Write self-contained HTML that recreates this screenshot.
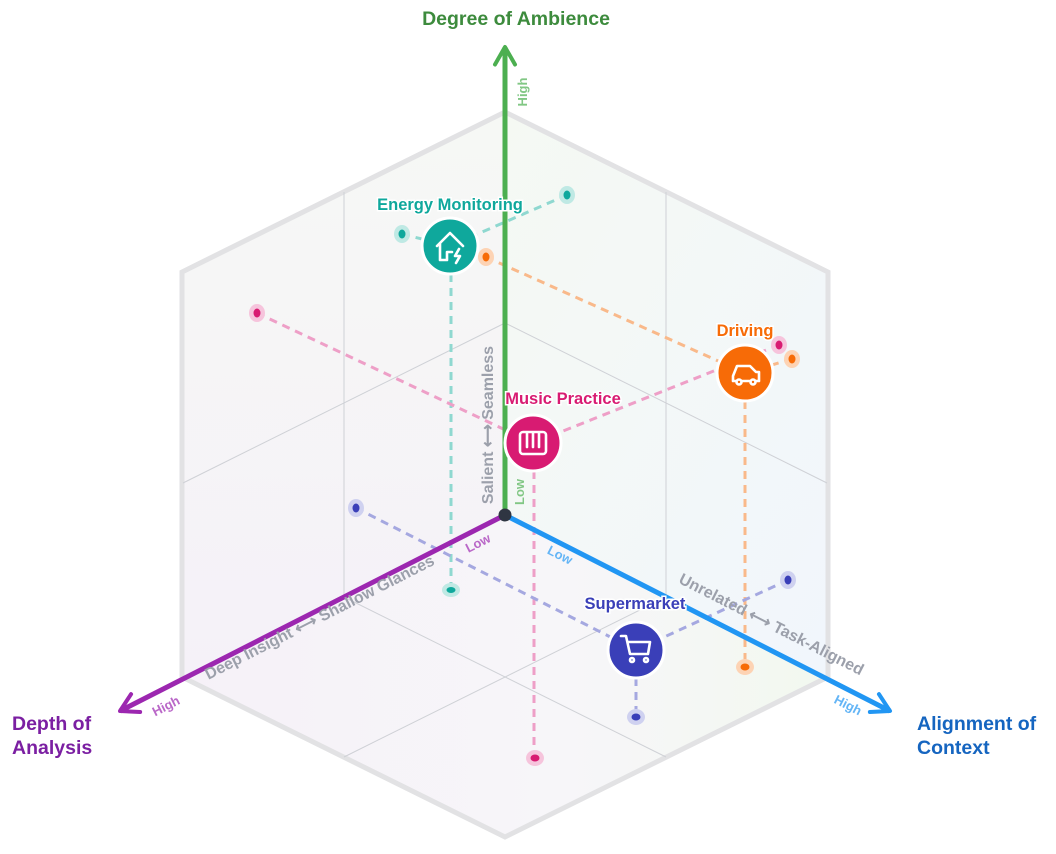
<!DOCTYPE html>
<html><head><meta charset="utf-8"><style>
html,body{margin:0;padding:0;background:#fff;}
svg{display:block;font-family:"Liberation Sans",sans-serif;}
</style></head><body>
<svg width="1056" height="854" viewBox="0 0 1056 854" xmlns="http://www.w3.org/2000/svg">
<defs>
<linearGradient id="gl" x1="0" y1="0" x2="0" y2="1"><stop offset="0" stop-color="#f6f8f5"/><stop offset="1" stop-color="#f5f1f8"/></linearGradient>
<linearGradient id="gr" x1="0" y1="0" x2="1" y2="1"><stop offset="0" stop-color="#f5f9f3"/><stop offset="1" stop-color="#f1f6fc"/></linearGradient>
<linearGradient id="gf" x1="0" y1="0" x2="1" y2="0"><stop offset="0" stop-color="#f6f1f8"/><stop offset="0.6" stop-color="#f7f6f9"/><stop offset="1" stop-color="#f2f8ef"/></linearGradient>
<marker id="ag" viewBox="0 0 10 10" refX="8" refY="5" markerWidth="5" markerHeight="5" orient="auto"><path d="M1,1 L8,5 L1,9" fill="none" stroke="#4caf50" stroke-width="1.6" stroke-linecap="round" stroke-linejoin="round"/></marker>
<marker id="ap" viewBox="0 0 10 10" refX="8" refY="5" markerWidth="5" markerHeight="5" orient="auto"><path d="M1,1 L8,5 L1,9" fill="none" stroke="#9c27b0" stroke-width="1.6" stroke-linecap="round" stroke-linejoin="round"/></marker>
<marker id="ab" viewBox="0 0 10 10" refX="8" refY="5" markerWidth="5" markerHeight="5" orient="auto"><path d="M1,1 L8,5 L1,9" fill="none" stroke="#2196f3" stroke-width="1.6" stroke-linecap="round" stroke-linejoin="round"/></marker>
</defs>
<polygon points="505,515 505,112 182,272 182,677" fill="url(#gl)"/>
<polygon points="505,515 505,112 828,272 828,677" fill="url(#gr)"/>
<polygon points="505,515 182,677 505,837 828,677" fill="url(#gf)"/>
<polygon points="505,112 828,272 828,677 505,837 182,677 182,272" fill="none" stroke="#e2e2e4" stroke-width="5" stroke-linejoin="miter"/>
<g stroke="#cfd1d6" stroke-width="1" fill="none">
<line x1="344" y1="192" x2="344" y2="597"/>
<line x1="666" y1="192" x2="666" y2="597"/>
<line x1="505" y1="323" x2="183" y2="483"/>
<line x1="505" y1="323" x2="827" y2="483"/>
<line x1="344" y1="597" x2="666" y2="757"/>
<line x1="666" y1="597" x2="344" y2="757"/>
</g>
<g fill="none" stroke-width="3" stroke-dasharray="8,6">
<g stroke="#8fd8d0"><line x1="402" y1="234" x2="450" y2="246"/><line x1="567" y1="195" x2="450" y2="246"/><line x1="451" y1="246" x2="451" y2="590"/></g>
<g stroke="#f9b98a"><line x1="486" y1="257" x2="745" y2="373"/><line x1="792" y1="359" x2="745" y2="373"/><line x1="745" y1="373" x2="745" y2="667"/></g>
<g stroke="#ee9fc7"><line x1="257" y1="313" x2="533" y2="443"/><line x1="779" y1="345" x2="533" y2="443"/><line x1="534" y1="443" x2="534" y2="758"/></g>
<g stroke="#a5a8e0"><line x1="356" y1="508" x2="636" y2="650"/><line x1="788" y1="580" x2="636" y2="650"/><line x1="636" y1="650" x2="636" y2="717"/></g>
</g>
<g>
<ellipse cx="402" cy="234" rx="8" ry="9" fill="#bfe9e4"/><ellipse cx="402" cy="234" rx="3.5" ry="4.5" fill="#0fa89c"/>
<ellipse cx="567" cy="195" rx="8" ry="9" fill="#bfe9e4"/><ellipse cx="567" cy="195" rx="3.5" ry="4.5" fill="#0fa89c"/>
<ellipse cx="451" cy="590" rx="9" ry="7" fill="#bfe9e4"/><ellipse cx="451" cy="590" rx="4.5" ry="3" fill="#0fa89c"/>
<ellipse cx="486" cy="257" rx="8" ry="9" fill="#fdd3b4"/><ellipse cx="486" cy="257" rx="3.5" ry="4.5" fill="#f76b07"/>
<ellipse cx="792" cy="359" rx="8" ry="9" fill="#fdd3b4"/><ellipse cx="792" cy="359" rx="3.5" ry="4.5" fill="#f76b07"/>
<ellipse cx="745" cy="667" rx="9" ry="8" fill="#fdd3b4"/><ellipse cx="745" cy="667" rx="4.5" ry="3.5" fill="#f76b07"/>
<ellipse cx="257" cy="313" rx="8" ry="9" fill="#f6c4dc"/><ellipse cx="257" cy="313" rx="3.5" ry="4.5" fill="#d81b72"/>
<ellipse cx="779" cy="345" rx="8" ry="9" fill="#f6c4dc"/><ellipse cx="779" cy="345" rx="3.5" ry="4.5" fill="#d81b72"/>
<ellipse cx="535" cy="758" rx="9" ry="8" fill="#f6c4dc"/><ellipse cx="535" cy="758" rx="4.5" ry="3.5" fill="#d81b72"/>
<ellipse cx="356" cy="508" rx="8" ry="9" fill="#cfd1f0"/><ellipse cx="356" cy="508" rx="3.5" ry="4.5" fill="#3a3fb8"/>
<ellipse cx="788" cy="580" rx="8" ry="9" fill="#cfd1f0"/><ellipse cx="788" cy="580" rx="3.5" ry="4.5" fill="#3a3fb8"/>
<ellipse cx="636" cy="717" rx="9" ry="8" fill="#cfd1f0"/><ellipse cx="636" cy="717" rx="4.5" ry="3.5" fill="#3a3fb8"/>
</g>
<line x1="505" y1="515" x2="505" y2="47" stroke="#4caf50" stroke-width="5" marker-end="url(#ag)"/>
<line x1="505" y1="515" x2="120" y2="711" stroke="#9c27b0" stroke-width="5" marker-end="url(#ap)"/>
<line x1="505" y1="515" x2="890" y2="711" stroke="#2196f3" stroke-width="5" marker-end="url(#ab)"/>
<circle cx="505" cy="515" r="6.5" fill="#2f3542"/>
<text x="516" y="25" text-anchor="middle" font-size="19.5" font-weight="bold" fill="#3d8b3d">Degree of Ambience</text>
<text x="12" y="730" font-size="19.5" font-weight="bold" fill="#7b1fa2">Depth of</text>
<text x="12" y="754" font-size="19.5" font-weight="bold" fill="#7b1fa2">Analysis</text>
<text x="917" y="730" font-size="19.5" font-weight="bold" fill="#1565c0">Alignment of</text>
<text x="917" y="754" font-size="19.5" font-weight="bold" fill="#1565c0">Context</text>
<text transform="translate(527,92) rotate(-90)" text-anchor="middle" font-size="13" font-weight="bold" fill="#81c784">High</text>
<text transform="translate(524,492) rotate(-90)" text-anchor="middle" font-size="13" font-weight="bold" fill="#81c784">Low</text>
<text transform="translate(493,425) rotate(-90)" text-anchor="middle" font-size="16" font-weight="bold" fill="#9ca0ab">Salient ⟷ Seamless</text>
<text transform="translate(480,547) rotate(-27)" text-anchor="middle" font-size="13" font-weight="bold" fill="#ba68c8">Low</text>
<text transform="translate(168,710) rotate(-27)" text-anchor="middle" font-size="13" font-weight="bold" fill="#ba68c8">High</text>
<text transform="translate(558,559) rotate(27)" text-anchor="middle" font-size="13" font-weight="bold" fill="#64b5f6">Low</text>
<text transform="translate(846,709) rotate(27)" text-anchor="middle" font-size="13" font-weight="bold" fill="#64b5f6">High</text>
<text transform="translate(322,622) rotate(-27)" text-anchor="middle" font-size="16" font-weight="bold" fill="#9ca0ab">Deep Insight ⟷ Shallow Glances</text>
<text transform="translate(769,629) rotate(27)" text-anchor="middle" font-size="16" font-weight="bold" fill="#9ca0ab">Unrelated ⟷ Task-Aligned</text>
<g stroke="#fff" stroke-width="3">
<circle cx="450" cy="246" r="28" fill="#0fa89c"/>
<circle cx="745" cy="373" r="28" fill="#f76b07"/>
<circle cx="533" cy="443" r="28" fill="#d81b72"/>
<circle cx="636" cy="650" r="28" fill="#3a3fb8"/>
</g>
<g fill="none" stroke="#fff" stroke-width="2.6" stroke-linecap="round" stroke-linejoin="round">
<path d="M437,246 L450,233 L463,246 M440,243 V260 H447 V252 H452"/>
<path d="M459,249 L455,256 H460 L456,263"/>
<path d="M733,376 L737,366 H750 L756,372 H759 V381 H733 Z"/>
<circle cx="739" cy="382" r="2.5" fill="#f76b07"/><circle cx="753" cy="382" r="2.5" fill="#f76b07"/>
<rect x="520" y="432" width="26" height="22" rx="3"/>
<path d="M527,433 V447 M533,433 V447 M539,433 V447"/>
<path d="M621,636 H626 L630,654 H648 L650,642 H628"/>
<circle cx="632" cy="660" r="2"/><circle cx="646" cy="660" r="2"/>
</g>
<g font-size="16.5" font-weight="bold" text-anchor="middle" stroke="#fff" stroke-width="3" paint-order="stroke">
<text x="450" y="210" fill="#0fa89c">Energy Monitoring</text>
<text x="745" y="336" fill="#f76b07">Driving</text>
<text x="563" y="404" fill="#d81b72">Music Practice</text>
<text x="635" y="609" fill="#3a3fb8">Supermarket</text>
</g>
</svg>
</body></html>
